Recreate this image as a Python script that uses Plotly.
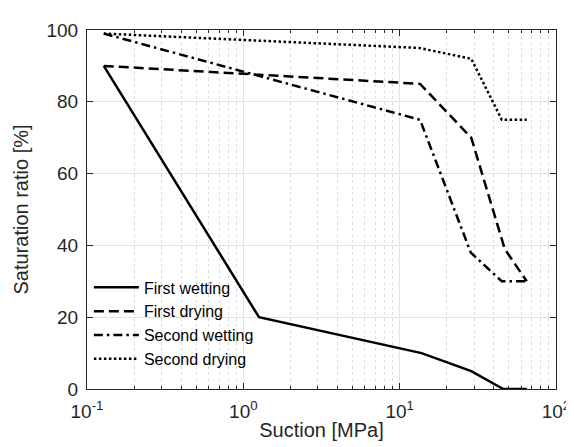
import plotly.graph_objects as go

x_fw = [0.128, 1.26, 13.8, 28.7, 46, 65]
y_fw = [90, 20, 10, 5, 0, 0]

x_fd = [0.128, 13.5, 28.7, 47, 65]
y_fd = [90, 85, 70, 39, 30]

x_sw = [0.128, 13.5, 28.5, 45, 65]
y_sw = [99, 75, 38, 30, 30]

x_sd = [0.128, 13.3, 28.7, 45, 65]
y_sd = [99, 95, 92, 75, 75]

names = ["First wetting", "First drying", "Second wetting", "Second drying"]
dashes = ["solid", "10px,5px", "9px,4px,2.5px,4px", "2.5px,2.5px"]

fig = go.Figure()
for xs, ys, nm, d in zip([x_fw, x_fd, x_sw, x_sd], [y_fw, y_fd, y_sw, y_sd], names, dashes):
    fig.add_trace(go.Scatter(x=xs, y=ys, mode="lines", name=nm,
                             line=dict(color="black", width=2.5, dash=d)))

minor_vals = [m * 10 ** e for e in (-1, 0, 1) for m in range(2, 10)]
font = "Liberation Sans, Arial, sans-serif"
fig.update_layout(
    width=574, height=447,
    margin=dict(l=77, r=16, t=14, b=66),
    paper_bgcolor="white", plot_bgcolor="white",
    font=dict(family=font, size=18, color="#262626"),
    showlegend=True,
    legend=dict(x=0.004, y=0.035, xanchor="left", yanchor="bottom",
                bgcolor="rgba(255,255,255,0)", borderwidth=0, itemwidth=45,
                font=dict(size=16, color="black"), tracegroupgap=0),
    xaxis=dict(type="log", range=[-1, 2],
               tickvals=[0.1, 1, 10, 100],
               ticktext=["10<sup>-1</sup>", "10<sup>0</sup>", "10<sup>1</sup>", "10<sup>2</sup>"],
               tickfont=dict(size=19, color="#262626"),
               ticks="inside", ticklen=6, tickcolor="#262626",
               ticklabelstandoff=5,
               showline=True, linecolor="#262626", linewidth=1, mirror="ticks",
               showgrid=True, gridcolor="#e3e3e3", gridwidth=1,
               minor=dict(tickvals=minor_vals, ticks="inside", ticklen=3, tickcolor="#262626",
                          showgrid=True, gridcolor="#dcdcdc", griddash="dot", gridwidth=1),
               title=dict(text="Suction [MPa]", font=dict(size=20), standoff=2),
               zeroline=False),
    yaxis=dict(range=[0, 100], tickvals=[0, 20, 40, 60, 80, 100],
               tickfont=dict(size=19, color="#262626"),
               ticks="inside", ticklen=6, tickcolor="#262626",
               ticklabelstandoff=4,
               showline=True, linecolor="#262626", linewidth=1, mirror="ticks",
               showgrid=True, gridcolor="#e3e3e3", gridwidth=1,
               title=dict(text="Saturation ratio [%]", font=dict(size=20), standoff=12),
               zeroline=False),
)
fig.write_html("out.html")
